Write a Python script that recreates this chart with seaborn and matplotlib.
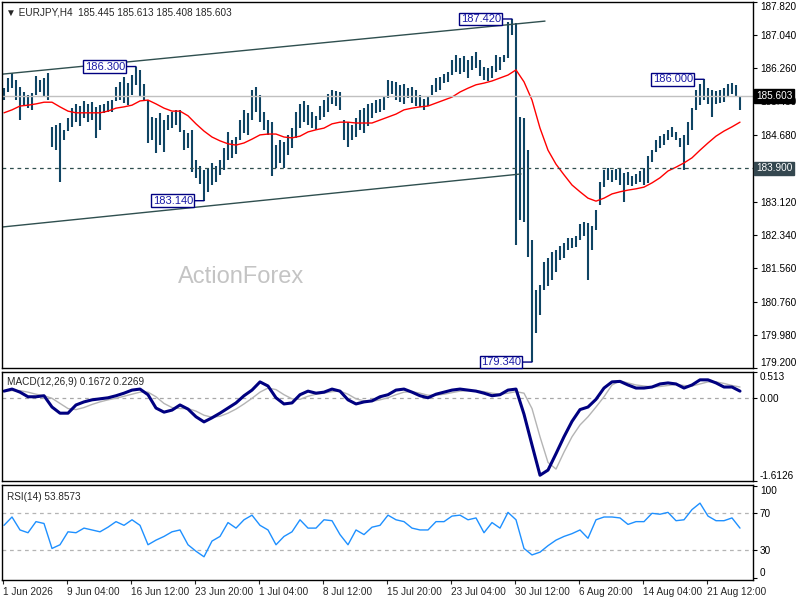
import numpy as np
import matplotlib
matplotlib.use("Agg")
import matplotlib.pyplot as plt
import matplotlib.transforms as mtransforms
import seaborn as sns

# ======================================================
# STYLE
# ======================================================
sns.set_style("white")
plt.rcParams["font.family"] = ["Liberation Sans", "DejaVu Sans"]

# ======================================================
# DATA (one bar = two H4 candles)
# ======================================================
bar_high = [
    185.79, 186.03, 186.15, 185.98, 185.82, 185.70, 185.63, 185.68, 186.08, 185.98,
    186.03, 186.15, 184.88, 184.93, 184.98, 184.81, 185.09, 185.32, 185.42, 185.37,
    185.49, 185.42, 185.46, 185.35, 185.39, 185.42, 185.49, 185.51, 185.82, 185.94,
    186.05, 185.91, 186.10, 186.30, 186.22, 185.89, 185.51, 185.11, 185.09, 185.21,
    185.04, 185.16, 185.23, 185.28, 185.28, 184.81, 184.74, 184.81, 184.10, 183.96,
    183.86, 183.91, 184.03, 183.96, 184.10, 184.39, 184.76, 184.57, 184.65, 185.04,
    185.28, 185.21, 185.75, 185.82, 185.63, 185.23, 185.04, 185.00, 184.46, 184.57,
    184.53, 184.69, 184.86, 185.23, 185.42, 185.49, 185.39, 185.23, 185.14, 185.37,
    185.51, 185.65, 185.75, 185.72, 185.70, 185.04, 185.00, 184.93, 185.09, 185.28,
    185.32, 185.42, 185.44, 185.51, 185.54, 185.58, 185.98, 185.96, 185.94, 185.87,
    185.89, 185.79, 185.82, 185.75, 185.63, 185.54, 185.58, 185.87, 186.03, 186.05,
    186.12, 186.17, 186.45, 186.57, 186.50, 186.55, 186.45, 186.55, 186.64, 186.45,
    186.29, 186.26, 186.31, 186.57, 186.52, 186.57, 187.35, 187.42, 187.33, 185.11,
    185.09, 184.34, 182.21, 181.04, 181.15, 181.70, 181.79, 181.93, 181.98, 182.07,
    182.14, 182.26, 182.26, 182.31, 182.59, 182.64, 182.62, 182.54, 182.92, 183.58,
    183.86, 183.91, 183.86, 183.89, 183.91, 183.79, 183.82, 183.72, 183.77, 183.84,
    183.91, 184.20, 184.34, 184.57, 184.67, 184.72, 184.81, 184.88, 184.76, 184.62,
    184.69, 185.00, 185.32, 185.75, 185.89, 186.00, 185.79, 185.75, 185.72, 185.75,
    185.79, 185.89, 185.91, 185.87, 185.61,
]
bar_low = [
    185.51, 185.70, 185.79, 185.51, 185.04, 185.39, 185.32, 185.28, 185.63, 185.70,
    185.61, 185.51, 184.41, 184.34, 183.58, 184.57, 184.78, 184.88, 185.00, 184.90,
    185.09, 185.00, 185.04, 184.62, 184.81, 185.21, 185.23, 185.23, 185.49, 185.51,
    185.44, 185.39, 185.63, 185.87, 185.61, 185.51, 184.50, 184.57, 184.27, 184.46,
    184.29, 184.81, 184.86, 184.93, 184.76, 184.34, 184.39, 183.82, 183.67, 183.53,
    183.14, 183.34, 183.51, 183.58, 183.75, 183.86, 184.10, 184.15, 184.25, 184.57,
    184.74, 184.69, 185.04, 185.23, 185.00, 184.81, 184.69, 183.72, 183.91, 184.03,
    183.91, 184.22, 184.39, 184.62, 184.86, 185.00, 184.93, 184.86, 184.81, 185.04,
    185.11, 185.23, 185.42, 185.37, 185.28, 184.57, 184.41, 184.57, 184.65, 184.81,
    184.74, 184.90, 185.09, 185.21, 185.23, 185.28, 185.56, 185.65, 185.51, 185.46,
    185.42, 185.56, 185.44, 185.37, 185.35, 185.28, 185.37, 185.63, 185.70, 185.75,
    185.91, 185.94, 186.10, 186.17, 186.12, 186.17, 186.03, 186.22, 186.26, 186.08,
    185.98, 185.96, 186.03, 186.17, 186.22, 186.40, 186.50, 187.04, 182.10, 182.69,
    182.64, 181.81, 179.34, 180.03, 180.45, 181.04, 181.13, 181.27, 181.46, 181.74,
    181.79, 181.98, 182.02, 182.05, 182.21, 182.31, 181.27, 181.98, 182.45, 183.04,
    183.46, 183.63, 183.58, 183.63, 183.51, 183.11, 183.51, 183.49, 183.53, 183.58,
    183.51, 183.56, 184.06, 184.29, 184.39, 184.46, 184.57, 184.65, 184.57, 184.41,
    183.86, 184.46, 184.81, 185.28, 185.39, 185.51, 185.42, 185.11, 185.42, 185.44,
    185.46, 185.61, 185.65, 185.61, 185.28,
]

# indicators, one point every second bar
ma_values = [
    185.21, 185.28, 185.37, 185.39, 185.42, 185.46, 185.46, 185.35, 185.25, 185.21,
    185.21, 185.21, 185.21, 185.25, 185.32, 185.35, 185.39, 185.49, 185.51, 185.42,
    185.32, 185.25, 185.25, 185.14, 184.95, 184.78, 184.64, 184.55, 184.48, 184.45,
    184.50, 184.59, 184.69, 184.71, 184.71, 184.64, 184.62, 184.66, 184.76, 184.81,
    184.85, 184.95, 184.99, 184.99, 184.97, 184.97, 184.97, 185.04, 185.11, 185.18,
    185.28, 185.32, 185.35, 185.37, 185.44, 185.51, 185.58, 185.70, 185.79, 185.87,
    185.91, 185.96, 186.03, 186.10, 186.22, 185.94, 185.51, 184.85, 184.33, 184.00,
    183.75, 183.51, 183.35, 183.20, 183.13, 183.20, 183.30, 183.35, 183.39, 183.42,
    183.46, 183.56, 183.68, 183.84, 183.93, 184.03, 184.15, 184.33, 184.50, 184.66,
    184.78, 184.88, 184.99,
]
macd_main = [
    0.14, 0.18, 0.12, 0.03, 0.03, 0.05, -0.17, -0.29, -0.29, -0.13,
    -0.07, -0.03, -0.01, 0.01, 0.05, 0.10, 0.16, 0.18, 0.07, -0.19,
    -0.27, -0.23, -0.13, -0.21, -0.36, -0.46, -0.38, -0.29, -0.19, -0.09,
    0.05, 0.16, 0.32, 0.24, 0.01, -0.11, -0.09, 0.07, 0.14, 0.10,
    0.12, 0.18, 0.14, -0.03, -0.11, -0.07, -0.05, 0.03, 0.07, 0.16,
    0.18, 0.12, 0.05, 0.01, 0.08, 0.12, 0.16, 0.18, 0.16, 0.14,
    0.10, 0.05, 0.07, 0.16, 0.18, -0.31, -0.91, -1.50, -1.40, -1.08,
    -0.75, -0.45, -0.22, -0.17, -0.02, 0.20, 0.32, 0.33, 0.26, 0.20,
    0.20, 0.22, 0.28, 0.30, 0.28, 0.20, 0.26, 0.36, 0.36, 0.30,
    0.22, 0.22, 0.14,
]
macd_signal = [
    0.14, 0.15, 0.15, 0.12, 0.08, 0.05, 0.00, -0.10, -0.20, -0.22,
    -0.18, -0.12, -0.07, -0.03, 0.00, 0.04, 0.08, 0.12, 0.12, 0.03,
    -0.10, -0.18, -0.20, -0.20, -0.25, -0.33, -0.37, -0.35, -0.29, -0.21,
    -0.11, 0.00, 0.12, 0.20, 0.17, 0.07, -0.01, -0.02, 0.04, 0.08,
    0.10, 0.13, 0.14, 0.08, -0.01, -0.05, -0.06, -0.03, 0.01, 0.07,
    0.12, 0.13, 0.10, 0.06, 0.06, 0.08, 0.11, 0.14, 0.15, 0.15,
    0.13, 0.10, 0.08, 0.10, 0.13, 0.10, -0.20, -0.75, -1.25, -1.38,
    -1.05, -0.75, -0.52, -0.36, -0.17, 0.03, 0.26, 0.34, 0.30, 0.26,
    0.24, 0.22, 0.23, 0.25, 0.27, 0.25, 0.24, 0.28, 0.32, 0.32,
    0.29, 0.25, 0.22,
]
rsi_values = [
    57, 66, 52, 49, 61, 59, 32, 36, 50, 49,
    54, 52, 50, 55, 61, 57, 63, 57, 36, 41,
    45, 50, 52, 36, 29, 23, 40, 45, 60, 54,
    63, 68, 57, 52, 36, 45, 50, 63, 54, 54,
    63, 62, 47, 36, 52, 47, 55, 57, 68, 63,
    61, 54, 52, 52, 61, 61, 67, 68, 63, 65,
    49, 60, 54, 71, 63, 32, 25, 28, 35, 41,
    45, 48, 52, 43, 63, 66, 66, 65, 58, 61,
    61, 70, 69, 71, 62, 63, 74, 81, 67, 62,
    62, 65, 54,
]

# swing labels
swing_bar = [33, 50, 127, 132, 175]
swing_price = [186.30, 183.14, 187.42, 179.34, 186.00]
swing_text = ["186.300", "183.140", "187.420", "179.340", "186.000"]

# channel trend lines (bar index, price)
upper_x = [-0.5, 135.25]
upper_y = [186.12, 187.37]
lower_x = [-0.5, 129.25]
lower_y = [182.52, 183.77]

support_level = 183.90
last_price = 185.603

price_ticks = [187.82, 187.04, 186.26, 185.48, 184.68, 183.90, 183.12,
               182.34, 181.56, 180.76, 179.98, 179.20]
date_ticks = [-0.25, 15.75, 31.75, 47.75, 63.75, 79.75, 95.75, 111.75,
              127.75, 143.75, 159.75, 175.75]
date_labels = ["1 Jun 2026", "9 Jun 04:00", "16 Jun 12:00", "23 Jun 20:00",
               "1 Jul 04:00", "8 Jul 12:00", "15 Jul 20:00", "23 Jul 04:00",
               "30 Jul 12:00", "6 Aug 20:00", "14 Aug 04:00", "21 Aug 12:00"]

bar_x = np.arange(len(bar_high))
ind_x = np.arange(len(ma_values)) * 2

# ======================================================
# FIGURE LAYOUT (pixel boxes of the three panes)
# ======================================================
W, H = 800, 600
fig = plt.figure(figsize=(8, 6), dpi=100)
fig.patch.set_facecolor("white")


def pane(l, t, r, b):
    return fig.add_axes([l / W, 1 - b / H, (r - l) / W, (b - t) / H])


ax = pane(2, 2, 753, 368)
ax_macd = pane(2, 372, 753, 481)
ax_rsi = pane(2, 485, 753, 580)

FS = 7.2
BAR_COLOR = "#0f4463"
XLIM = (-0.5, 187.25)

for a in (ax, ax_macd, ax_rsi):
    for s in a.spines.values():
        s.set_color("black")
        s.set_linewidth(1.0)
    a.yaxis.tick_right()
    a.tick_params(axis="y", right=True, left=False, length=3, width=0.8,
                  direction="out", pad=2, labelsize=FS, colors="black")
    a.tick_params(axis="x", bottom=False, labelbottom=False)
    a.set_facecolor("white")

# ======================================================
# MAIN PRICE PANE
# ======================================================
ax.vlines(bar_x, bar_low, bar_high, color=BAR_COLOR, linewidth=1.5)
sns.lineplot(x=ind_x, y=ma_values, ax=ax, color="red", linewidth=1.0)

ax.plot(upper_x, upper_y, color="#2f4f4f", linewidth=1.0)
ax.plot(lower_x, lower_y, color="#2f4f4f", linewidth=1.0)
ax.axhline(support_level, color="#2f4f4f", linewidth=0.9, linestyle=(0, (3, 3)))
ax.axhline(last_price, color="#c0c0c0", linewidth=1.0)

for b, p, t in zip(swing_bar, swing_price, swing_text):
    ax.annotate(t, xy=(b, p), xytext=(-8, 0), textcoords="offset points",
                ha="right", va="center", fontsize=8, color="#1a1aa6",
                bbox=dict(boxstyle="square,pad=0.12", fc="white",
                          ec="#000080", lw=1.0),
                arrowprops=dict(arrowstyle="-", color="#000080", lw=1.0,
                                shrinkA=0, shrinkB=0))

ax.set_xlim(*XLIM)
ax.set_ylim(179.20, 187.82)
ax.set_yticks(price_ticks)
# the 183.900 tick sits under its own boxed label
ax.set_yticklabels(["" if v == support_level else f"{v:.3f}" for v in price_ticks])
ax.get_yticklabels()[0].set_va("top")
ax.get_yticklabels()[-1].set_va("bottom")
ax.set_xlabel("")
ax.set_ylabel("")

mixed = mtransforms.blended_transform_factory(ax.transAxes, ax.transData)
ax.text(1.004, last_price, f"{last_price:.3f}", transform=mixed, ha="left",
        va="center", fontsize=FS, color="white",
        bbox=dict(boxstyle="square,pad=0.18", fc="black", ec="black"))
ax.text(1.004, support_level, f"{support_level:.3f}", transform=mixed,
        ha="left", va="center", fontsize=FS, color="white",
        bbox=dict(boxstyle="square,pad=0.18", fc="#34474f", ec="#34474f"))

ax.text(0.005, 0.985, "\u25bc EURJPY,H4  185.445 185.613 185.408 185.603",
        transform=ax.transAxes, ha="left", va="top", fontsize=FS)
ax.text(0.318, 0.249, "ActionForex", transform=ax.transAxes, ha="center",
        va="center", fontsize=17, color="#c4c4c4")

# ======================================================
# MACD PANE
# ======================================================
ax_macd.axhline(0, color="#a8a8a8", linewidth=0.9, linestyle=(0, (3, 3)))
sns.lineplot(x=ind_x, y=macd_signal, ax=ax_macd, color="#b4b4b4", linewidth=1.0)
sns.lineplot(x=ind_x, y=macd_main, ax=ax_macd, color="#000080", linewidth=2.2)
ax_macd.set_xlim(*XLIM)
ax_macd.set_ylim(-1.6126, 0.513)
ax_macd.set_yticks([0.513, 0.0, -1.6126])
ax_macd.set_yticklabels(["0.513", "0.00", "-1.6126"])
ax_macd.get_yticklabels()[0].set_va("top")
ax_macd.get_yticklabels()[2].set_va("bottom")
ax_macd.set_xlabel("")
ax_macd.set_ylabel("")
ax_macd.text(0.006, 0.95, "MACD(12,26,9) 0.1672 0.2269",
             transform=ax_macd.transAxes, ha="left", va="top", fontsize=FS)

# ======================================================
# RSI PANE
# ======================================================
for lvl in (70, 30):
    ax_rsi.axhline(lvl, color="#b4b4b4", linewidth=0.9, linestyle=(0, (3, 3)))
sns.lineplot(x=ind_x, y=rsi_values, ax=ax_rsi, color="#1e90ff", linewidth=1.0)
ax_rsi.set_xlim(*XLIM)
ax_rsi.set_ylim(-2.1, 100.6)
ax_rsi.set_yticks([100, 70, 30, 0])
ax_rsi.set_yticklabels(["100", "70", "30", "0"])
ax_rsi.get_yticklabels()[0].set_va("top")
ax_rsi.get_yticklabels()[3].set_va("bottom")
ax_rsi.set_ylabel("")
ax_rsi.text(0.006, 0.93, "RSI(14) 53.8573", transform=ax_rsi.transAxes,
            ha="left", va="top", fontsize=FS)

ax_rsi.tick_params(axis="x", bottom=True, labelbottom=True, length=3,
                   width=0.8, direction="out", pad=2, labelsize=FS)
ax_rsi.set_xticks(date_ticks)
ax_rsi.set_xticklabels(date_labels)
for lbl in ax_rsi.get_xticklabels():
    lbl.set_ha("left")
ax_rsi.set_xlabel("")

fig.savefig("out.png", dpi=100, facecolor="white")
plt.close(fig)
